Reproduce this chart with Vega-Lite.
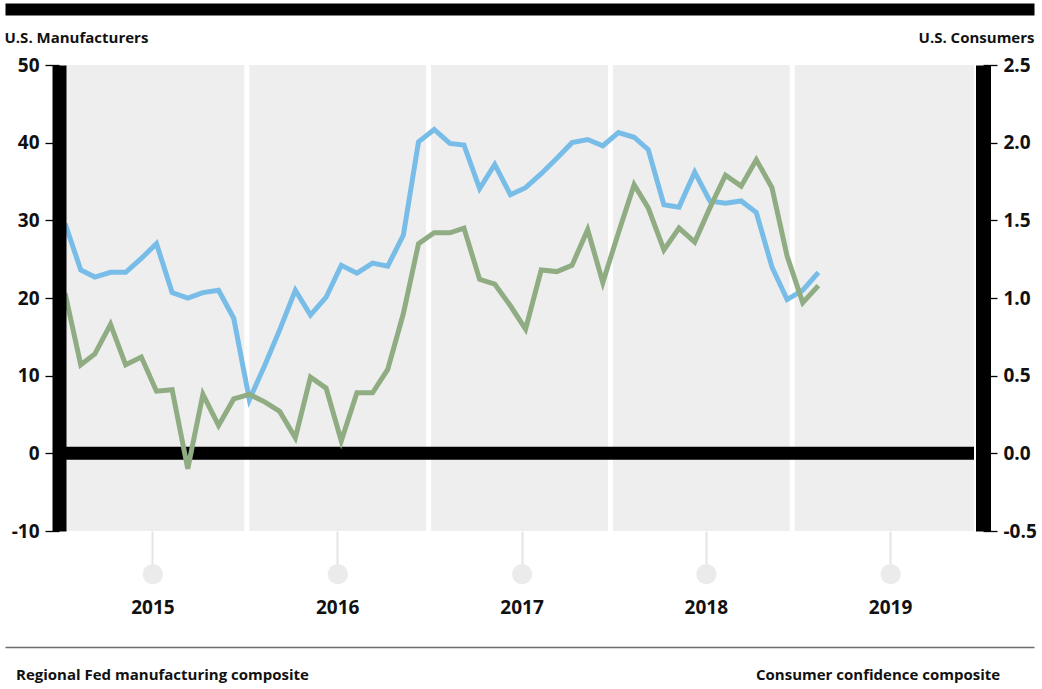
{
  "$schema": "https://vega.github.io/schema/vega-lite/v6.json",
  "width": 1029,
  "height": 466,
  "autosize": {"type": "none"},
  "padding": {"left": 5, "top": 65, "right": 8, "bottom": 158},
  "background": "white",
  "config": {"view": {"stroke": null}, "font": "Open Sans", "axis": {"grid": false}},
  "data": {"values": [
    {"date": "2015-01-01", "manufacturing": 29.6, "consumer": 1.03},
    {"date": "2015-02-01", "manufacturing": 23.6, "consumer": 0.57},
    {"date": "2015-03-01", "manufacturing": 22.7, "consumer": 0.64},
    {"date": "2015-04-01", "manufacturing": 23.3, "consumer": 0.83},
    {"date": "2015-05-01", "manufacturing": 23.3, "consumer": 0.57},
    {"date": "2015-06-01", "manufacturing": 25.1, "consumer": 0.62},
    {"date": "2015-07-01", "manufacturing": 27.0, "consumer": 0.40},
    {"date": "2015-08-01", "manufacturing": 20.7, "consumer": 0.41},
    {"date": "2015-09-01", "manufacturing": 20.0, "consumer": -0.10},
    {"date": "2015-10-01", "manufacturing": 20.7, "consumer": 0.38},
    {"date": "2015-11-01", "manufacturing": 21.0, "consumer": 0.18},
    {"date": "2015-12-01", "manufacturing": 17.4, "consumer": 0.35},
    {"date": "2016-01-01", "manufacturing": 6.9, "consumer": 0.38},
    {"date": "2016-02-01", "manufacturing": 11.4, "consumer": 0.33},
    {"date": "2016-03-01", "manufacturing": 15.9, "consumer": 0.27},
    {"date": "2016-04-01", "manufacturing": 21.0, "consumer": 0.10},
    {"date": "2016-05-01", "manufacturing": 17.8, "consumer": 0.49},
    {"date": "2016-06-01", "manufacturing": 20.1, "consumer": 0.42},
    {"date": "2016-07-01", "manufacturing": 24.2, "consumer": 0.08},
    {"date": "2016-08-01", "manufacturing": 23.2, "consumer": 0.39},
    {"date": "2016-09-01", "manufacturing": 24.5, "consumer": 0.39},
    {"date": "2016-10-01", "manufacturing": 24.1, "consumer": 0.54},
    {"date": "2016-11-01", "manufacturing": 28.1, "consumer": 0.90},
    {"date": "2016-12-01", "manufacturing": 40.1, "consumer": 1.35},
    {"date": "2017-01-01", "manufacturing": 41.7, "consumer": 1.42},
    {"date": "2017-02-01", "manufacturing": 39.9, "consumer": 1.42},
    {"date": "2017-03-01", "manufacturing": 39.7, "consumer": 1.45},
    {"date": "2017-04-01", "manufacturing": 34.1, "consumer": 1.12},
    {"date": "2017-05-01", "manufacturing": 37.2, "consumer": 1.09},
    {"date": "2017-06-01", "manufacturing": 33.3, "consumer": 0.95},
    {"date": "2017-07-01", "manufacturing": 34.2, "consumer": 0.80},
    {"date": "2017-08-01", "manufacturing": 36.0, "consumer": 1.18},
    {"date": "2017-09-01", "manufacturing": 38.0, "consumer": 1.17},
    {"date": "2017-10-01", "manufacturing": 40.0, "consumer": 1.21},
    {"date": "2017-11-01", "manufacturing": 40.4, "consumer": 1.44},
    {"date": "2017-12-01", "manufacturing": 39.6, "consumer": 1.10},
    {"date": "2018-01-01", "manufacturing": 41.3, "consumer": 1.42},
    {"date": "2018-02-01", "manufacturing": 40.7, "consumer": 1.73},
    {"date": "2018-03-01", "manufacturing": 39.1, "consumer": 1.58},
    {"date": "2018-04-01", "manufacturing": 32.0, "consumer": 1.31},
    {"date": "2018-05-01", "manufacturing": 31.7, "consumer": 1.45},
    {"date": "2018-06-01", "manufacturing": 36.2, "consumer": 1.36},
    {"date": "2018-07-01", "manufacturing": 32.5, "consumer": 1.58},
    {"date": "2018-08-01", "manufacturing": 32.2, "consumer": 1.79},
    {"date": "2018-09-01", "manufacturing": 32.5, "consumer": 1.72},
    {"date": "2018-10-01", "manufacturing": 31.0, "consumer": 1.89},
    {"date": "2018-11-01", "manufacturing": 24.0, "consumer": 1.71},
    {"date": "2018-12-01", "manufacturing": 19.8, "consumer": 1.27},
    {"date": "2019-01-01", "manufacturing": 21.0, "consumer": 0.97},
    {"date": "2019-02-01", "manufacturing": 23.3, "consumer": 1.08}
  ]},
  "layer": [
    {
      "layer": [
        {
          "data": {"values": [
            {"start": 2015, "end": 2016},
            {"start": 2016, "end": 2017},
            {"start": 2017, "end": 2018},
            {"start": 2018, "end": 2019},
            {"start": 2019, "end": 2020}
          ]},
          "mark": {"type": "rect", "fill": "#eeeeee"},
          "encoding": {
            "x": {"field": "start", "type": "quantitative",
              "scale": {"domain": [2014.67, 2020.33], "nice": false, "zero": false},
              "axis": {"orient": "top", "offset": 56, "domain": true, "domainWidth": 12, "domainColor": "#000000",
                "ticks": false, "labels": false, "title": null, "grid": false}},
            "x2": {"field": "end"}
          }
        },
        {
          "data": {"values": [{"start": 2016}, {"start": 2017}, {"start": 2018}, {"start": 2019}]},
          "mark": {"type": "rule", "stroke": "#ffffff", "strokeWidth": 5},
          "encoding": {"x": {"field": "start", "type": "quantitative"}}
        },
        {
          "data": {"values": [{}]},
          "mark": {"type": "rule", "stroke": "#000000", "strokeWidth": 13},
          "encoding": {
            "x": {"datum": 2015, "type": "quantitative"},
            "x2": {"datum": 2020},
            "y": {"datum": 0, "type": "quantitative", "scale": {"domain": [-10, 50], "nice": false, "zero": false}, "axis": null}
          }
        }
      ]
    },
    {
      "mark": {"type": "line", "strokeWidth": 5},
      "encoding": {
        "x": {"field": "date", "type": "temporal",
          "scale": {"type": "utc", "domain": [{"year": 2014, "month": 9, "date": 4, "utc": true}, {"year": 2020, "month": 4, "date": 3, "utc": true}]},
          "axis": {"orient": "bottom", "title": null, "grid": false, "domain": false,
            "values": [
              {"year": 2015, "month": 6, "date": 23, "utc": true},
              {"year": 2016, "month": 6, "date": 23, "utc": true},
              {"year": 2017, "month": 6, "date": 23, "utc": true},
              {"year": 2018, "month": 6, "date": 23, "utc": true},
              {"year": 2019, "month": 6, "date": 23, "utc": true}
            ],
            "ticks": true, "tickSize": 41, "tickColor": "#e4e4e4", "tickWidth": 2,
            "labelExpr": "'●'", "labelColor": "#ebebeb", "labelFont": "DejaVu Sans", "labelFontSize": 26,
            "labelBaseline": "middle", "labelPadding": 0, "labelFlush": false, "labelOverlap": false}},
        "y": {"field": "manufacturing", "type": "quantitative",
          "scale": {"domain": [-10, 50], "nice": false, "zero": false},
          "axis": {"orient": "left", "offset": -54, "values": [-10, 0, 10, 20, 30, 40, 50],
            "labelExpr": "'' + datum.value",
            "domainWidth": 14, "domainColor": "#000000",
            "tickSize": 14, "tickColor": "#000000", "tickWidth": 1.3,
            "labelPadding": 6, "labelFontSize": 19, "labelFontWeight": "bold", "labelColor": "#111111",
            "zindex": 1,
            "title": "U.S. Manufacturers", "titleAngle": 0, "titleAlign": "left", "titleBaseline": "middle",
            "titleX": -55, "titleY": -28, "titleFontSize": 15, "titleFontWeight": "bold", "titleColor": "#111111"}},
        "color": {"datum": "Regional Fed manufacturing composite", "type": "nominal",
          "scale": {"domain": ["Regional Fed manufacturing composite", "Consumer confidence composite"], "range": ["#78bce8", "#8fac83"]},
          "legend": {"orient": "none", "legendX": -4, "legendY": 602, "direction": "horizontal", "columns": 2,
            "columnPadding": 432, "symbolSize": 0, "symbolOpacity": 0, "symbolStrokeWidth": 0, "labelOffset": 0,
            "labelFontSize": 15, "labelFontWeight": "bold", "labelColor": "#111111", "labelLimit": 0, "padding": 0,
            "title": null, "labelBaseline": "middle"}}
      }
    },
    {
      "mark": {"type": "line", "strokeWidth": 5},
      "encoding": {
        "x": {"field": "date", "type": "temporal",
          "scale": {"type": "utc", "domain": [{"year": 2014, "month": 9, "date": 4, "utc": true}, {"year": 2020, "month": 4, "date": 3, "utc": true}]},
          "axis": {"orient": "bottom", "offset": 116, "title": null, "grid": false,
            "domain": true, "domainColor": "#6e6e6e", "domainWidth": 1.3,
            "values": [
              {"year": 2015, "month": 6, "date": 23, "utc": true},
              {"year": 2016, "month": 6, "date": 23, "utc": true},
              {"year": 2017, "month": 6, "date": 23, "utc": true},
              {"year": 2018, "month": 6, "date": 23, "utc": true},
              {"year": 2019, "month": 6, "date": 23, "utc": true}
            ],
            "format": "%Y", "ticks": false, "tickSize": 0, "labelPadding": -40, "labelBaseline": "middle",
            "labelFontSize": 19, "labelFontWeight": "bold", "labelColor": "#111111", "labelFlush": false, "labelOverlap": false}},
        "y": {"field": "consumer", "type": "quantitative",
          "scale": {"domain": [-0.5, 2.5], "nice": false, "zero": false},
          "axis": {"orient": "right", "offset": -51, "values": [-0.5, 0, 0.5, 1, 1.5, 2, 2.5],
            "labelExpr": "datum.value < 0 ? '-' + format(-datum.value, '.1f') : format(datum.value, '.1f')",
            "domainWidth": 15, "domainColor": "#000000",
            "tickSize": 14, "tickColor": "#000000", "tickWidth": 1.3,
            "labelPadding": 6, "labelFontSize": 19, "labelFontWeight": "bold", "labelColor": "#111111",
            "zindex": 1,
            "title": "U.S. Consumers", "titleAngle": 0, "titleAlign": "right", "titleBaseline": "middle",
            "titleX": 51, "titleY": -28, "titleFontSize": 15, "titleFontWeight": "bold", "titleColor": "#111111"}},
        "color": {"datum": "Consumer confidence composite", "type": "nominal"}
      }
    }
  ],
  "resolve": {"scale": {"x": "independent", "y": "independent"}}
}
